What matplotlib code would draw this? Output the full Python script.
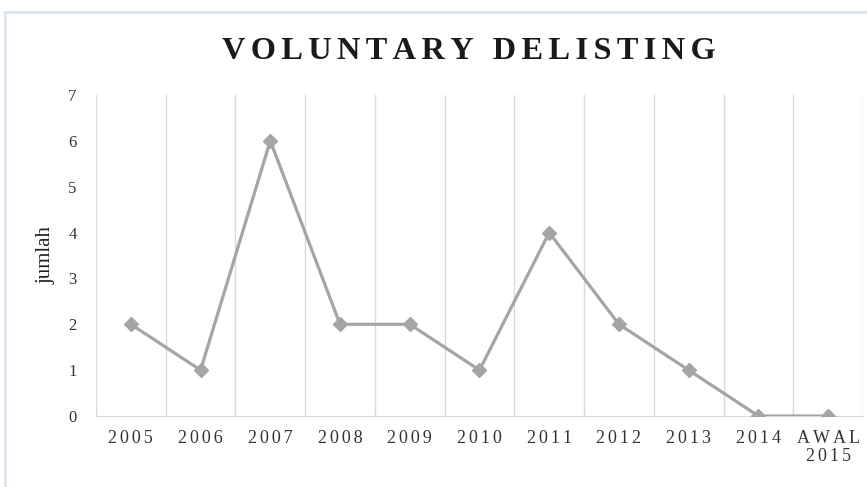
import matplotlib.pyplot as plt
import matplotlib.patches as patches
import numpy as np

# data
years = ['2005', '2006', '2007', '2008', '2009', '2010', '2011', '2012', '2013', '2014', 'AWAL\n2015']
jumlah = [2, 1, 6, 2, 2, 1, 4, 2, 1, 0, 0]

plt.rcParams['font.family'] = ['Liberation Serif', 'DejaVu Serif']


def spaced(s, gap='\u2009'):
    # letter spacing, line by line
    return '\n'.join(gap.join(line) for line in s.split('\n'))


fig = plt.figure(figsize=(8.67, 4.87), dpi=100)
ax = fig.add_axes([0.1107, 0.1458, 0.8847, 0.6592])

x = np.arange(len(years))
ax.plot(x, jumlah, color='#A5A5A5', linewidth=2.3, marker='D', markersize=7,
        markerfacecolor='#A5A5A5', markeredgecolor='#A5A5A5', zorder=3)

ax.set_xlim(-0.5, len(years) - 0.5)
ax.set_ylim(0, 7)
ax.set_yticks(range(0, 8))
ax.set_xticks(x)
ax.set_xticklabels([spaced(y, '\u200a\u200a') for y in years], fontsize=13, color='#333333',
                   linespacing=1.1)
ax.tick_params(axis='y', labelsize=12, colors='#333333', length=0, pad=14)
ax.tick_params(axis='x', length=0, pad=10)

# vertical gridlines between categories
ax.set_xticks(np.arange(-0.5, len(years)), minor=True)
ax.tick_params(axis='x', which='minor', length=0)
ax.grid(True, which='minor', axis='x', color='#D9D9D9', linewidth=1)

for s in ['top', 'right', 'left']:
    ax.spines[s].set_visible(False)
ax.spines['bottom'].set_color('#D9D9D9')

ax.set_ylabel('jumlah', fontsize=15, color='#222222', labelpad=9)
fig.text(0.541, 0.894, spaced('VOLUNTARY DELISTING', '\u2006'), ha='center', va='center',
         fontsize=23.3, fontweight='bold', color='#1a1a1a')

# light blue frame
fig.patches.append(patches.Rectangle((0.006, -0.1), 1.1, 1.075, transform=fig.transFigure,
                                     fill=False, edgecolor='#DAE3F3', linewidth=2))

plt.savefig('out.png', dpi=100)
